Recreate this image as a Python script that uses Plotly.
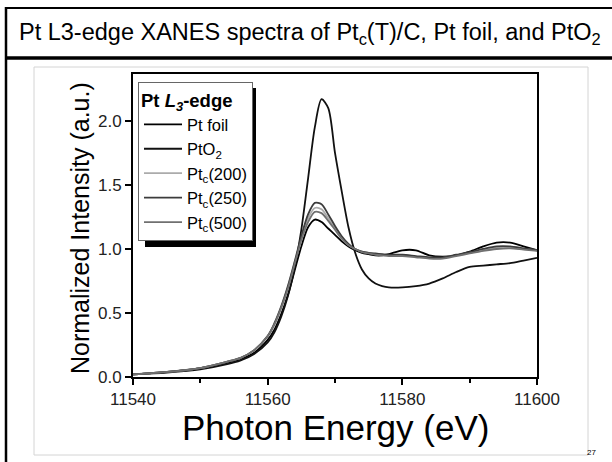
import plotly.graph_objects as go

# ---------------- data ----------------
energy = [11540, 11545, 11550, 11554, 11556, 11558, 11560, 11561, 11562, 11563,
          11564, 11565, 11566, 11567, 11568, 11569, 11570, 11571, 11572, 11573,
          11574, 11575, 11576, 11577, 11578, 11580, 11582, 11584, 11586, 11588,
          11590, 11592, 11594, 11596, 11598, 11600]

pt_foil = [0.02, 0.04, 0.07, 0.11, 0.14, 0.19, 0.29, 0.37, 0.49, 0.64,
           0.83, 1.02, 1.17, 1.23, 1.21, 1.16, 1.11, 1.06, 1.02, 0.99,
           0.97, 0.96, 0.95, 0.95, 0.96, 0.99, 0.99, 0.95, 0.94, 0.95,
           0.98, 1.02, 1.05, 1.05, 1.02, 0.99]

pto2 = [0.02, 0.035, 0.06, 0.10, 0.13, 0.18, 0.27, 0.35, 0.47, 0.63,
        0.85, 1.15, 1.55, 1.95, 2.17, 2.10, 1.75, 1.45, 1.17, 0.97,
        0.84, 0.77, 0.73, 0.71, 0.70, 0.70, 0.71, 0.73, 0.77, 0.82,
        0.86, 0.87, 0.88, 0.89, 0.91, 0.93]

ptc_200 = [0.02, 0.04, 0.07, 0.12, 0.15, 0.21, 0.32, 0.41, 0.54, 0.70,
           0.89, 1.08, 1.24, 1.32, 1.31, 1.24, 1.16, 1.09, 1.03, 1.00,
           0.98, 0.97, 0.96, 0.955, 0.95, 0.95, 0.94, 0.93, 0.93, 0.95,
           0.97, 0.99, 1.01, 1.01, 1.00, 0.99]

ptc_250 = [0.02, 0.04, 0.07, 0.12, 0.15, 0.21, 0.32, 0.42, 0.55, 0.71,
           0.90, 1.10, 1.27, 1.36, 1.35, 1.27, 1.18, 1.10, 1.04, 1.00,
           0.98, 0.97, 0.965, 0.96, 0.955, 0.955, 0.945, 0.935, 0.935, 0.955,
           0.975, 1.00, 1.02, 1.02, 1.005, 0.99]

ptc_500 = [0.02, 0.04, 0.07, 0.12, 0.15, 0.21, 0.32, 0.41, 0.54, 0.69,
           0.88, 1.07, 1.21, 1.29, 1.28, 1.22, 1.15, 1.08, 1.03, 1.00,
           0.975, 0.965, 0.955, 0.95, 0.945, 0.945, 0.935, 0.925, 0.925, 0.945,
           0.965, 0.985, 1.00, 1.005, 0.995, 0.985]

series_names = ["Pt foil", "PtO<sub>2</sub>", "Pt<sub>c</sub>(200)",
                "Pt<sub>c</sub>(250)", "Pt<sub>c</sub>(500)"]
series_values = [pt_foil, pto2, ptc_200, ptc_250, ptc_500]
series_colors = ["#000000", "#111111", "#ababab", "#3c3c3c", "#707070"]

x_ticks = [11540, 11560, 11580, 11600]
y_ticks = [0.0, 0.5, 1.0, 1.5, 2.0]

# ---------------- layout geometry (pixels) ----------------
W, H = 612, 462
L, R, T, B = 133, 537, 74, 377


def px(x):
    return (x - L) / (R - L)


def py(y):
    return (B - y) / (B - T)


FONT = "Arial, Liberation Sans, sans-serif"

fig = go.Figure()
for i in range(len(series_names)):
    fig.add_trace(go.Scatter(
        x=energy, y=series_values[i], name=series_names[i], mode="lines",
        line=dict(color=series_colors[i], width=1.8, shape="spline", smoothing=0.8),
    ))

shapes = [
    # title box
    dict(type="line", xref="paper", yref="paper", x0=px(5), x1=px(640), y0=py(8), y1=py(8),
         line=dict(color="black", width=2)),
    dict(type="line", xref="paper", yref="paper", x0=px(5), x1=px(640), y0=py(58), y1=py(58),
         line=dict(color="black", width=3.5)),
    dict(type="line", xref="paper", yref="paper", x0=px(6), x1=px(6), y0=py(7), y1=py(480),
         line=dict(color="black", width=2.5)),
    # light picture frame
    dict(type="rect", xref="paper", yref="paper", x0=px(34), x1=px(588), y0=py(67), y1=py(455),
         line=dict(color="#d4d4d4", width=1)),
    # legend shadow
    dict(type="rect", xref="paper", yref="paper", x0=px(145), x1=px(256), y0=py(88), y1=py(247),
         line=dict(width=0), fillcolor="black", layer="above"),
]

annotations = [
    dict(text="Pt L3-edge XANES spectra of Pt<sub>c</sub>(T)/C, Pt foil, and PtO<sub>2</sub>",
         xref="paper", yref="paper", x=px(17), y=py(33), xanchor="left", yanchor="middle",
         showarrow=False, font=dict(family=FONT, size=23.5, color="black")),
    dict(text="Normalized Intensity (a.u.)", xref="paper", yref="paper", x=px(80), y=py(228),
         xanchor="center", yanchor="middle", textangle=-90, showarrow=False,
         font=dict(family=FONT, size=25, color="black")),
    dict(text="Photon Energy (eV)", xref="paper", yref="paper", x=px(335), y=py(427),
         xanchor="center", yanchor="middle", showarrow=False,
         font=dict(family=FONT, size=35, color="black")),
    dict(text="27", xref="paper", yref="paper", x=px(591), y=py(452),
         xanchor="center", yanchor="middle", showarrow=False,
         font=dict(family=FONT, size=8, color="black")),
]

fig.update_layout(
    width=W, height=H,
    margin=dict(l=L, r=W - R, t=T, b=H - B, pad=0),
    paper_bgcolor="white", plot_bgcolor="white",
    font=dict(family=FONT, color="black"),
    shapes=shapes, annotations=annotations,
    showlegend=True,
    legend=dict(
        x=px(138), y=py(82), xanchor="left", yanchor="top",
        bgcolor="white", bordercolor="#666666", borderwidth=1,
        font=dict(family=FONT, size=16.5, color="black"),
        title=dict(text="<b>Pt <i>L</i><sub><i>3</i></sub>-edge</b>",
                   font=dict(family=FONT, size=18.5, color="black")),
        itemwidth=38, tracegroupgap=0,
    ),
    xaxis=dict(
        range=[11540, 11600], tickvals=x_ticks, ticktext=[str(v) for v in x_ticks],
        showline=True, linecolor="black", linewidth=2, mirror=True,
        ticks="outside", ticklen=6, tickwidth=1.5, tickcolor="black",
        minor=dict(dtick=10, tick0=11540, ticks="outside", ticklen=4, tickwidth=1.5, tickcolor="black"),
        showgrid=False, zeroline=False,
        tickfont=dict(family=FONT, size=17, color="#222222"),
    ),
    yaxis=dict(
        range=[0, 2.367], tickvals=y_ticks, ticktext=["%.1f" % v for v in y_ticks],
        showline=True, linecolor="black", linewidth=2, mirror=True,
        ticks="outside", ticklen=6, tickwidth=1.5, tickcolor="black",
        showgrid=False, zeroline=False,
        tickfont=dict(family=FONT, size=17, color="#222222"),
    ),
)

fig.write_html("out.html")
